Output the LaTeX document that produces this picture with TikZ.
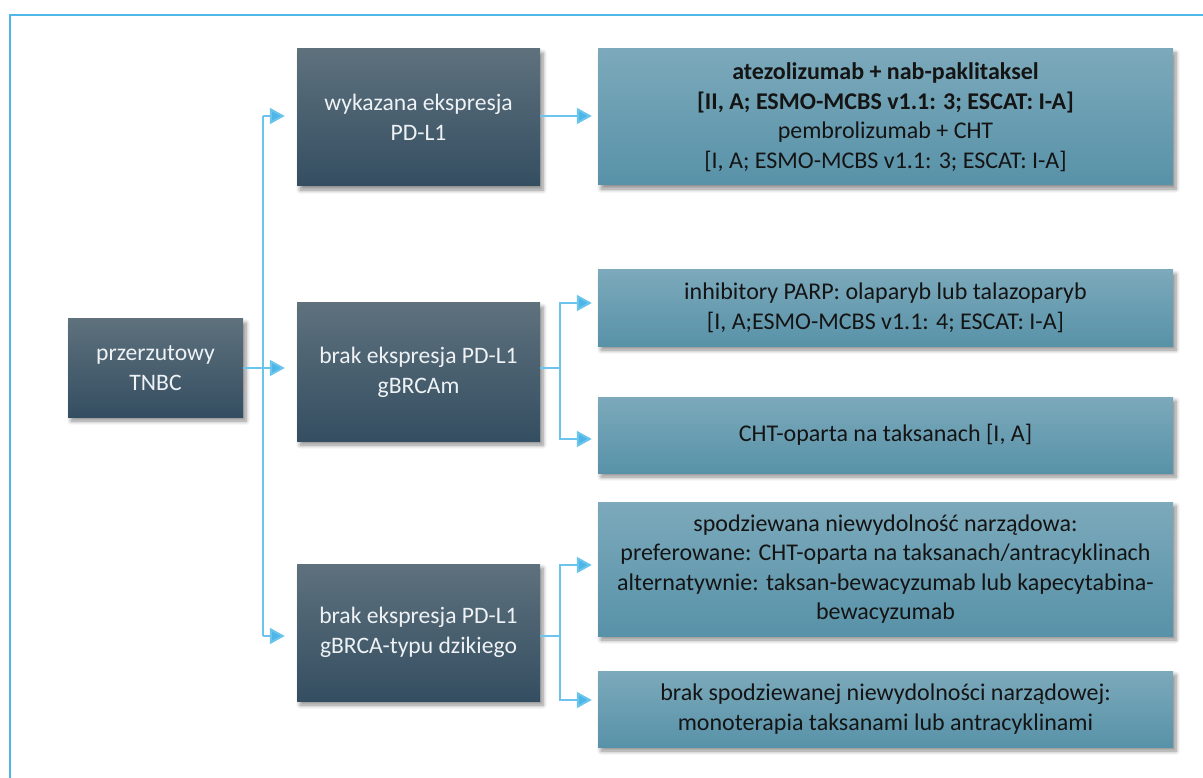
\documentclass[tikz,border=0pt]{standalone}
\usepackage{fontspec}
\setmainfont{Carlito}
\usetikzlibrary{arrows.meta,shadows.blur}
\definecolor{frameblue}{HTML}{4FB8E6}
\definecolor{lineblue}{HTML}{6CC4EC}
\definecolor{tipblue}{HTML}{4DB6E8}
\definecolor{darktop}{HTML}{5E717D}
\definecolor{darkbot}{HTML}{344E61}
\definecolor{restop}{HTML}{7CA9BB}
\definecolor{resbot}{HTML}{5892A8}
\definecolor{whitetext}{HTML}{EEF2F5}
\definecolor{blacktext}{HTML}{141414}
\tikzset{
  boxshadow/.style={blur shadow={shadow xshift=3pt,shadow yshift=-4pt,shadow blur steps=6,shadow blur radius=4pt,shadow opacity=45}},
  darkbox/.style={boxshadow,top color=darktop,bottom color=darkbot,draw=none,inner sep=0pt,align=center,
    text=whitetext,font=\fontsize{23.6}{30}\selectfont},
  resbox/.style={boxshadow,top color=restop,bottom color=resbot,draw=none,inner sep=0pt,align=center,
    text=blacktext,font=\fontsize{24}{29.5}\selectfont,minimum width=575pt},
  conn/.style={draw=lineblue,line width=2pt},
  arr/.style={conn,-{Triangle[length=15pt,width=16pt,fill=tipblue]}},
}
\begin{document}
\begin{tikzpicture}[x=1pt,y=-1pt]
\useasboundingbox (0,0) rectangle (1203,778);
% frame
\draw[frameblue,line width=2pt] (1210,15) -- (10,15) -- (10,790);
% nodes
\node[darkbox,minimum width=175pt,minimum height=98pt] (tnbc) at (155.5,368) {przerzutowy\\TNBC};
\node[darkbox,minimum width=243pt,minimum height=137pt] (b1) at (418.5,117.5) {wykazana ekspresja\\PD-L1};
\node[darkbox,minimum width=243pt,minimum height=138pt] (b2) at (418.5,372) {brak ekspresja PD-L1\\gBRCAm};
\node[darkbox,minimum width=243pt,minimum height=137pt] (b3) at (418.5,632.5) {brak ekspresja PD-L1\\gBRCA-typu dzikiego};
\node[resbox,minimum height=136pt] (r1) at (885.5,117) {\textbf{atezolizumab + nab-paklitaksel}\\\textbf{[II, A; ESMO-MCBS v1.1: 3; ESCAT: I-A]}\\pembrolizumab + CHT\\{[I, A; ESMO-MCBS v1.1: 3; ESCAT: I-A]}};
\node[resbox,minimum height=76pt] (r2) at (885.5,308) {inhibitory PARP: olaparyb lub talazoparyb\\{[I, A;ESMO-MCBS v1.1: 4; ESCAT: I-A]}};
\node[resbox,minimum height=76pt] (r3) at (885.5,435) {CHT-oparta na taksanach [I, A]};
\node[resbox,minimum height=134pt] (r4) at (885.5,569) {spodziewana niewydolność narządowa:\\preferowane: CHT-oparta na taksanach/antracyklinach\\alternatywnie: taksan-bewacyzumab lub kapecytabina-\\bewacyzumab};
\node[resbox,minimum height=76pt] (r5) at (885.5,709) {brak spodziewanej niewydolności narządowej:\\monoterapia taksanami lub antracyklinami};
% connectors: trunk
\coordinate (t1) at (263,116);
\coordinate (t3) at (263,636);
\draw[conn] (t1) -- (t3);
\draw[arr,shorten >=12pt] (t1) -- (t1 -| b1.west);
\draw[arr,shorten >=12pt] (t3) -- (t3 -| b3.west);
\draw[arr,shorten >=12pt] (tnbc.east) -- (tnbc.east -| b2.west);
% b1 -> r1
\coordinate (s1) at (b1.east |- t1);
\draw[arr,shorten >=6pt] (s1) -- (s1 -| r1.west);
% b2 branch
\coordinate (s2) at (b2.east |- tnbc.east);
\coordinate (k2) at (560,368);
\coordinate (k2a) at (560,303);
\coordinate (k2b) at (560,439);
\draw[conn] (s2) -- (k2);
\draw[arr,shorten >=6pt] (k2) -- (k2a) -- (k2a -| r2.west);
\draw[arr,shorten >=6pt] (k2) -- (k2b) -- (k2b -| r3.west);
% b3 branch
\coordinate (s3) at (b3.east |- t3);
\coordinate (k3) at (560,636);
\coordinate (k3a) at (560,565);
\coordinate (k3b) at (560,700);
\draw[conn] (s3) -- (k3);
\draw[arr,shorten >=6pt] (k3) -- (k3a) -- (k3a -| r4.west);
\draw[arr,shorten >=6pt] (k3) -- (k3b) -- (k3b -| r5.west);
\end{tikzpicture}
\end{document}
